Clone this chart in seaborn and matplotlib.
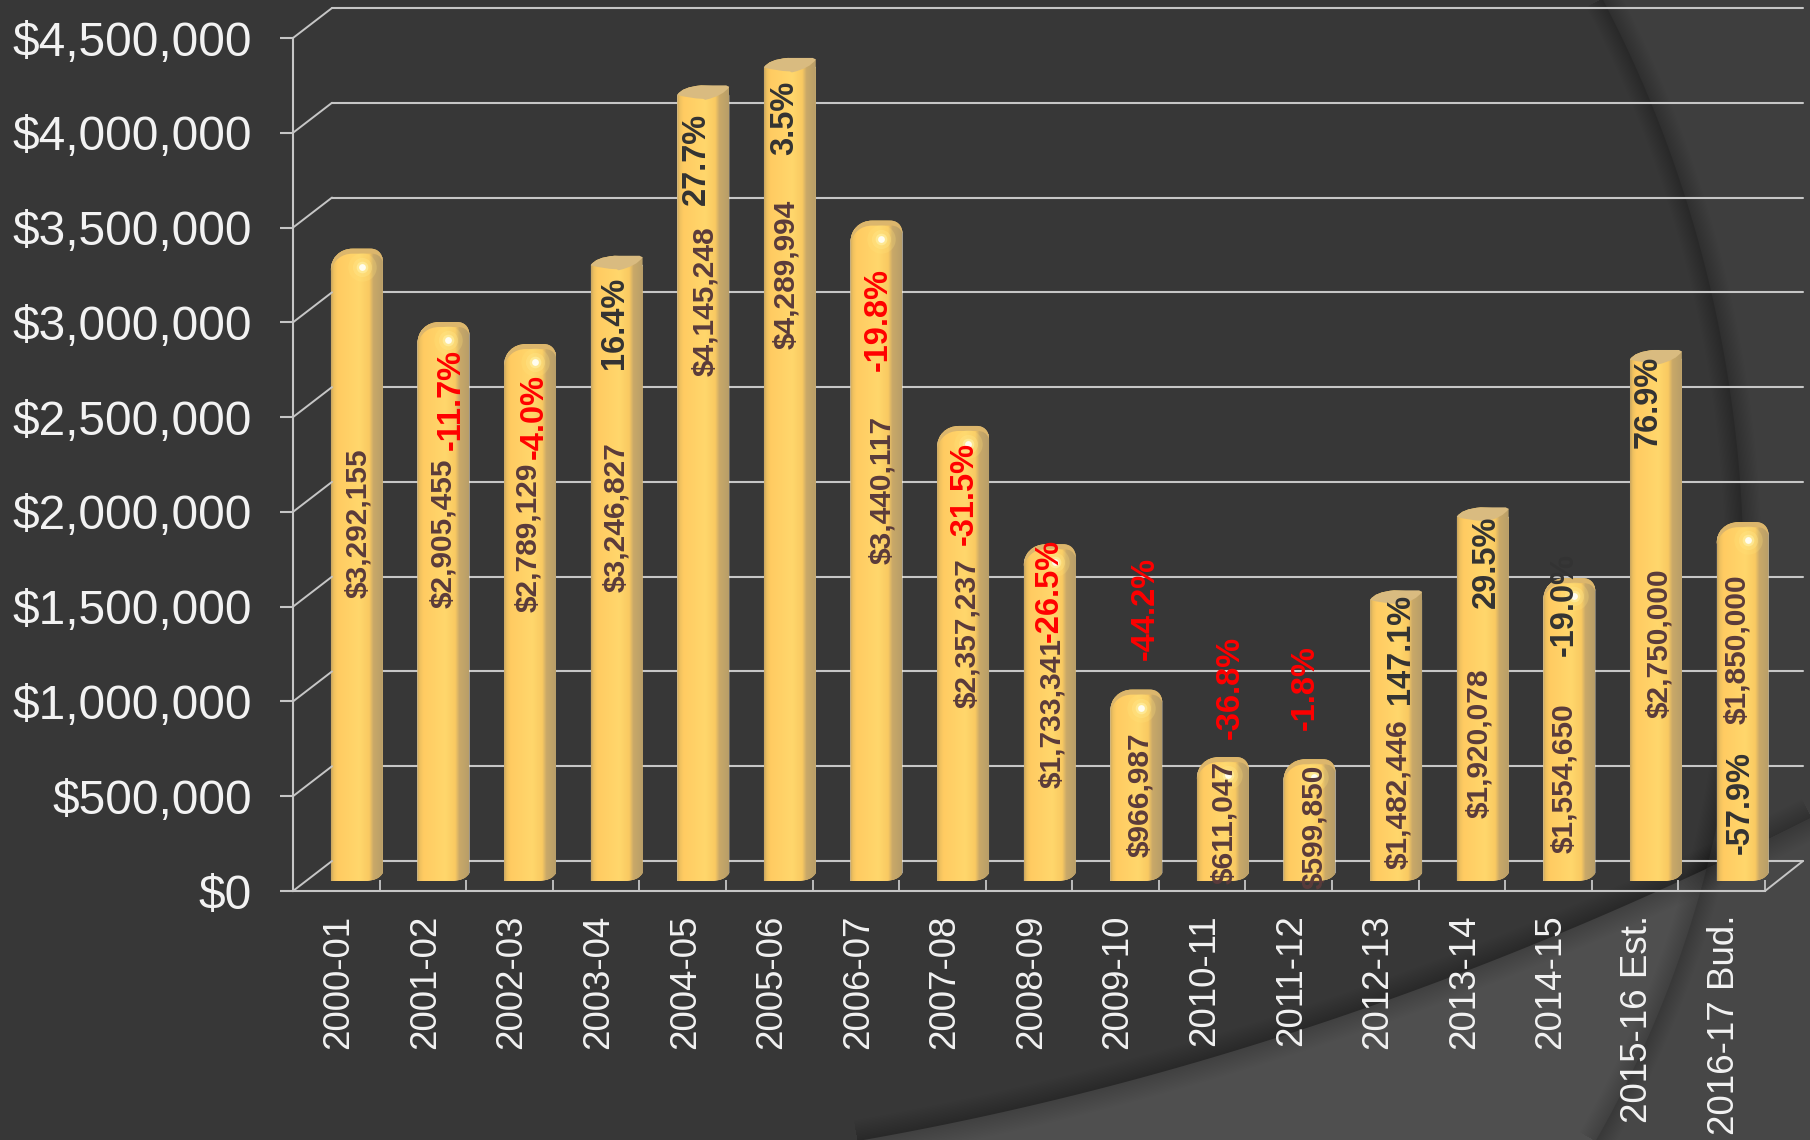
import numpy as np
import pandas as pd
import matplotlib
matplotlib.use('Agg')
import matplotlib.pyplot as plt
import seaborn as sns
from matplotlib.colors import LinearSegmentedColormap
from matplotlib.lines import Line2D
from matplotlib.patches import PathPatch, Polygon
from matplotlib.path import Path
from matplotlib.transforms import ScaledTranslation

W, H = 1810, 1140

years = ['2000-01', '2001-02', '2002-03', '2003-04', '2004-05', '2005-06', '2006-07', '2007-08', '2008-09',
         '2009-10', '2010-11', '2011-12', '2012-13', '2013-14', '2014-15', '2015-16 Est.', '2016-17 Bud.']
amounts = [3292155, 2905455, 2789129, 3246827, 4145248, 4289994, 3440117, 2357237, 1733341,
           966987, 611047, 599850, 1482446, 1920078, 1554650, 2750000, 1850000]
pct_change = [None, -11.7, -4.0, 16.4, 27.7, 3.5, -19.8, -31.5, -26.5,
              -44.2, -36.8, -1.8, 147.1, 29.5, -19.0, 76.9, -57.9]
y_ticks = [0, 500000, 1000000, 1500000, 2000000, 2500000, 3000000, 3500000, 4000000, 4500000]

# hand placed labels, in image pixels (text centre x, text bottom y)
amount_x = [358, 443, 528, 616, 705, 786, 882, 967, 1052, 1140, 1224, 1314, 1398, 1479, 1564, 1659, 1737]
amount_y = [598, 608, 612, 592, 376, 349, 564, 708, 788, 857, 884, 889, 869, 818, 853, 718, 724]
pct_x = [0, 451, 534, 614, 696, 785, 878, 964, 1049, 1145, 1230, 1305, 1400, 1486, 1564, 1648, 1740]
pct_y = [0, 450, 459, 369, 205, 155, 371, 545, 642, 660, 739, 730, 704, 608, 656, 448, 854]
dark_negative = ['2014-15', '2016-17 Bud.']
rounded_tops = ['2000-01', '2001-02', '2002-03', '2006-07', '2007-08', '2008-09', '2009-10',
                '2010-11', '2011-12', '2014-15', '2016-17 Bud.']

# background shapes, image pixels
arc_pts = [(1603, 0), (1650, 100), (1685, 198), (1712, 292), (1730, 387), (1740, 482), (1741, 600),
           (1735, 720), (1717, 833), (1700, 900), (1667, 983), (1635, 1065), (1597, 1140)]
swoosh_pts = [(848, 1140), (1000, 1113), (1150, 1082), (1300, 1030), (1467, 967), (1633, 900),
              (1713, 863), (1810, 823)]

LINE = '#c6c6c6'
TEXT = '#f2f2f2'
DARK = '#333333'
BROWN = '#5a3b3b'
RIM = '#d9bb80'

sns.set_style('ticks')
plt.rcParams['font.family'] = ['Liberation Sans', 'DejaVu Sans']


def axes_px(fig, x0, x1, y_bottom, y_top):
    return fig.add_axes([x0 / W, 1 - y_bottom / H, (x1 - x0) / W, (y_bottom - y_top) / H])


def soft_shadow(ax, xs, ys, max_lw, strength):
    # many faint strokes stacked, widest first, fade out away from the curve
    for lw in np.linspace(max_lw, 2, 14):
        ax.plot(xs, ys, color='black', lw=lw, alpha=strength, solid_capstyle='butt')


def draw_background(fig):
    ax = fig.add_axes([0, 0, 1, 1])
    ax.axis('off')
    ax.add_patch(Polygon([(0, 0), (W, 0), (W, H), (0, H)], color='#373737', lw=0))

    # smooth the picked points so the curves have no corners
    a = np.array(arc_pts, dtype=float)
    s = np.array(swoosh_pts, dtype=float)
    arc_y = np.linspace(-40, H + 40, 300)
    arc_x = np.polyval(np.polyfit(a[:, 1], a[:, 0], 4), arc_y)
    sw_x = np.linspace(200, W + 40, 400)
    sw_y = np.polyval(np.polyfit(s[:, 0], s[:, 1], 2), sw_x)

    soft_shadow(ax, arc_x, arc_y, 26, 0.009)
    right = list(zip(arc_x, arc_y)) + [(W + 50, H + 50), (W + 50, -50)]
    ax.add_patch(Polygon(right, color='#3e3e3e', lw=0))

    soft_shadow(ax, sw_x, sw_y, 30, 0.012)
    lower = Polygon(list(zip(sw_x, sw_y)) + [(W + 50, H + 50), (200, H + 50)], color='#4f4f4f', lw=0)
    ax.add_patch(lower)
    lower_right = Polygon(right, color='#474747', lw=0)
    ax.add_patch(lower_right)
    lower_right.set_clip_path(lower)
    ax.set_xlim(0, W)
    ax.set_ylim(H, 0)
    return ax


def draw_walls(fig):
    # back wall, only the horizontal lines show
    back = axes_px(fig, 332, 1803, 861, 8)
    back.patch.set_alpha(0)
    back.set_xlim(0, 1)
    back.set_ylim(0, 4500000)
    back.set_yticks(y_ticks)
    back.set_xticks([])
    back.tick_params(left=False, labelleft=False)
    back.grid(axis='y', color=LINE, lw=1.5)
    sns.despine(ax=back, left=True, bottom=True)
    for gl in back.get_ygridlines():
        gl.set_clip_on(False)

    # front edge holds the axis, ticks and labels
    front = axes_px(fig, 293, 1765, 891, 38)
    front.patch.set_alpha(0)
    front.set_xlim(-0.5, 16.5)
    front.set_ylim(0, 4500000)
    front.set_yticks(y_ticks)
    front.set_yticklabels([f'${v:,}' for v in y_ticks], fontsize=34.5, color=TEXT)
    front.set_xticks(range(len(years)))
    front.set_xticklabels(years, rotation=90, fontsize=26.5, color=TEXT)
    front.set_xticks(np.arange(-0.5, 17), minor=True)
    front.tick_params(axis='x', which='major', length=0, pad=17)
    front.tick_params(axis='x', which='minor', direction='in', length=8, width=1.3, color=LINE)
    front.tick_params(axis='y', length=9.5, width=1.5, color=LINE, pad=20)
    sns.despine(ax=front)
    for side in ['left', 'bottom']:
        front.spines[side].set_color(LINE)
        front.spines[side].set_linewidth(1.5)
    nudge = ScaledTranslation(2.5 / 100, 0, fig.dpi_scale_trans)
    for lab in front.get_xticklabels():
        lab.set_transform(lab.get_transform() + nudge)

    # diagonals joining front edge and back wall
    x0a, x0b = 293 / W, 332 / W
    for v in y_ticks:
        ya = 1 - (891 - v / 4500000 * 853) / H
        yb = 1 - (861 - v / 4500000 * 853) / H
        fig.add_artist(Line2D([x0a, x0b], [ya, yb], color=LINE, lw=1.4))
    fig.add_artist(Line2D([1765 / W, 1803 / W], [1 - 891 / H, 1 - 861 / H], color=LINE, lw=1.4))


def cylinder(ax, patch, rounded, cmap):
    # px sizes converted to data units of the bar axes
    ux = 1 / 86.6
    uy = 4500000 / 853.4
    x0 = patch.get_x()
    h = patch.get_height()
    w = patch.get_width() / ux

    def p(dx, dy):
        return (x0 + dx * ux, h + dy * uy)

    def q(dx, dy):
        return (x0 + dx * ux, dy * uy)

    verts = [q(0, 0), q(32, 0), q(44, 0), q(49, 3), q(w, 8)]
    codes = [Path.MOVETO, Path.LINETO, Path.CURVE4, Path.CURVE4, Path.CURVE4]
    if rounded:
        verts += [p(w, -5), p(w, 4), p(w - 6, 8), p(w - 12, 8), p(22, 8), p(9, 8), p(0, -1), p(0, -14)]
        codes += [Path.LINETO, Path.CURVE4, Path.CURVE4, Path.CURVE4, Path.LINETO,
                  Path.CURVE4, Path.CURVE4, Path.CURVE4]
    else:
        verts += [p(w, 8), p(24, 9.5), p(5, 8), p(0, 0)]
        codes += [Path.LINETO, Path.LINETO, Path.CURVE3, Path.CURVE3]
    verts += [q(0, 0)]
    codes += [Path.CLOSEPOLY]
    outline = Path(verts, codes)

    patch.set_clip_path(outline, transform=ax.transData)
    grad = np.linspace(0, 1, 128).reshape(1, -1)
    top = h + 10 * uy
    im = ax.imshow(grad, cmap=cmap, extent=(x0, x0 + w * ux, 0, top), aspect='auto',
                   interpolation='bilinear', zorder=3, vmin=0, vmax=1)
    im.set_clip_path(outline, transform=ax.transData)

    if rounded:
        rim = Path([p(0, -14), p(0, -1), p(9, 8), p(22, 8), p(w - 12, 8), p(w - 6, 8), p(w, 4), p(w, -5),
                    p(w - 2, 1), p(w - 6, 3), p(w - 12, 3), p(22, 3), p(10, 3), p(3, -4), p(0, -14)],
                   [Path.MOVETO, Path.CURVE4, Path.CURVE4, Path.CURVE4, Path.LINETO, Path.CURVE4, Path.CURVE4,
                    Path.CURVE4, Path.CURVE4, Path.CURVE4, Path.CURVE4, Path.LINETO, Path.CURVE4, Path.CURVE4,
                    Path.CURVE4])
        ax.add_patch(PathPatch(rim, fc='#dcb66c', ec='none', zorder=4))
        hx, hy = p(31, -10)
        for s, c, al in [(420, '#ffe27a', 0.25), (190, '#ffe88c', 0.35), (70, '#fff2a8', 0.6), (24, '#fffdf0', 1.0)]:
            sc = ax.scatter([hx], [hy], s=s, color=c, alpha=al, lw=0, zorder=5)
            sc.set_clip_path(outline, transform=ax.transData)
    else:
        lid = Path([p(0, 0), p(5, 8), p(24, 9.5), p(w - 3, 9.5), p(w, 8), p(w - 6, -1), p(w - 24, -5), p(w / 2, -4),
                    p(12, -3.5), p(0, 0)],
                   [Path.MOVETO, Path.CURVE3, Path.CURVE3, Path.LINETO, Path.LINETO, Path.CURVE3, Path.CURVE3,
                    Path.LINETO, Path.CURVE3, Path.CURVE3])
        ax.add_patch(PathPatch(lid, fc=RIM, ec='none', zorder=4))


def draw_bars(fig):
    df = pd.DataFrame({'year': years, 'amount': amounts})
    ax = axes_px(fig, 313.5, 1785.8, 881, 27.6)
    ax.patch.set_alpha(0)
    sns.barplot(data=df, x='year', y='amount', order=years, color='#ffcc66', width=0.6,
                saturation=1, ax=ax, zorder=2)
    ax.axis('off')
    ax.set_xlim(-0.5, 16.5)
    ax.set_ylim(0, 4500000)

    cmap = LinearSegmentedColormap.from_list('gold', [(0, '#c9a660'), (0.05, '#eec05f'), (0.12, '#ffcb62'),
                                                      (0.55, '#ffd76c'), (0.74, '#f9c962'), (0.82, '#c9a969'),
                                                      (1, '#b89e68')])
    for patch, year in zip(ax.patches, years):
        cylinder(ax, patch, year in rounded_tops, cmap)
    ax.set_xlim(-0.5, 16.5)
    ax.set_ylim(0, 4500000)
    return ax


def draw_labels(fig):
    for i, year in enumerate(years):
        fig.text(amount_x[i] / W, 1 - amount_y[i] / H, f'${amounts[i]:,}', rotation=90, ha='center', va='bottom',
                 fontsize=21.5, fontweight='bold', color=BROWN)
        if pct_change[i] is None:
            continue
        color = '#ff0000' if pct_change[i] < 0 and year not in dark_negative else DARK
        fig.text(pct_x[i] / W, 1 - pct_y[i] / H, f'{pct_change[i]:.1f}%', rotation=90, ha='center', va='bottom',
                 fontsize=23.5, fontweight='bold', color=color)


def main():
    fig = plt.figure(figsize=(W / 100, H / 100), dpi=100)
    draw_background(fig)
    draw_walls(fig)
    draw_bars(fig)
    draw_labels(fig)
    fig.savefig('out.png', dpi=100)
    plt.close(fig)


if __name__ == "__main__":
    main()
